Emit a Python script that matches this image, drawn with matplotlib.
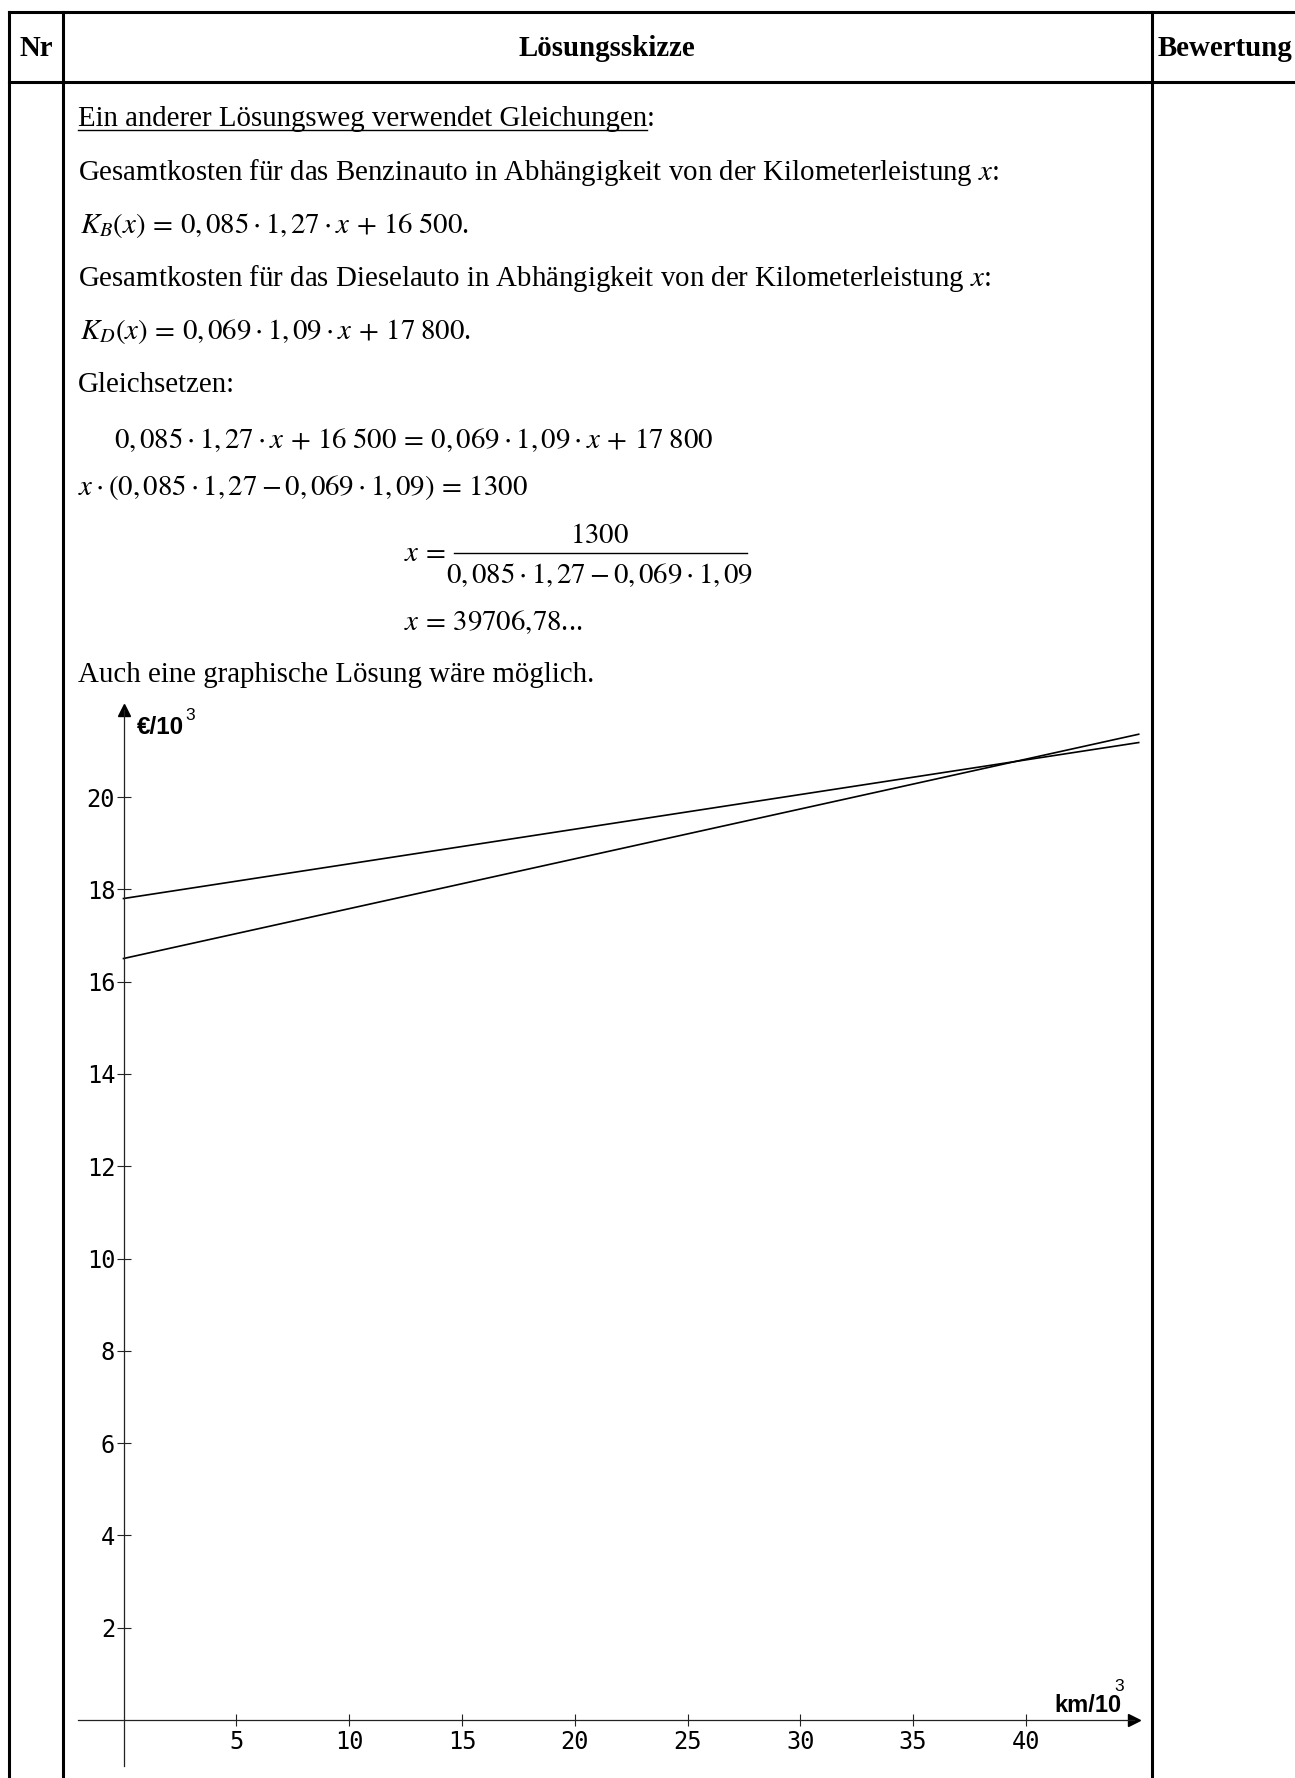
import matplotlib
matplotlib.use("Agg")
import matplotlib.pyplot as plt
from matplotlib.lines import Line2D

plt.rcParams['font.family'] = ['Liberation Serif', 'DejaVu Serif']
plt.rcParams['mathtext.fontset'] = 'stix'

# Daten: Gesamtkosten in 1000 EUR über km/1000
x_km = [0, 45]
kosten_benzin = [16.5, 21.36]
kosten_diesel = [17.8, 21.18]

x_ticks = [5, 10, 15, 20, 25, 30, 35, 40]
y_ticks = [2, 4, 6, 8, 10, 12, 14, 16, 18, 20]

W, H = 1295, 1778
fig = plt.figure(figsize=(W / 100, H / 100), dpi=100)
renderer = fig.canvas.get_renderer()


def fx(px):
    return px / W


def fy(py):
    return 1 - py / H


def linie(x0, y0, x1, y1, lw=2.2, **kw):
    fig.add_artist(Line2D([fx(x0), fx(x1)], [fy(y0), fy(y1)], color='black', lw=lw,
                          transform=fig.transFigure, **kw))


# Tabellenrahmen
linie(9, 12, W, 12)
linie(9, 82, W, 82)
linie(9, 12, 9, H)
linie(63, 12, 63, H)
linie(1152, 12, 1152, H)

# Kopfzeile
fs = 20.8
fig.text(fx(36), fy(56), "Nr", ha='center', fontsize=fs, fontweight='bold')
fig.text(fx(607), fy(56), "Lösungsskizze", ha='center', fontsize=fs, fontweight='bold')
fig.text(fx(1225), fy(56), "Bewertung", ha='center', fontsize=fs, fontweight='bold')

# Text
t = fig.text(fx(78), fy(126), "Ein anderer Lösungsweg verwendet Gleichungen", fontsize=fs)
bb = t.get_window_extent(renderer)
linie(bb.x0, 130, bb.x1, 130, lw=1.0)
fig.text(bb.x1 / W, fy(126), ":", fontsize=fs)

fig.text(fx(78), fy(180), "Gesamtkosten für das Benzinauto in Abhängigkeit von der Kilometerleistung $x$:",
         fontsize=fs)
fig.text(fx(80), fy(233), r"$K_B\left(x\right)\,=\,0{,}\,085\cdot 1{,}\,27\cdot x\,+\,16\;500$.", fontsize=fs)
fig.text(fx(78), fy(286), "Gesamtkosten für das Dieselauto in Abhängigkeit von der Kilometerleistung $x$:",
         fontsize=fs)
fig.text(fx(80), fy(339), r"$K_D\left(x\right)\,=\,0{,}\,069\cdot 1{,}\,09\cdot x\,+\,17\;800$.", fontsize=fs)
fig.text(fx(78), fy(392), "Gleichsetzen:", fontsize=fs)
fig.text(fx(114), fy(448),
         r"$0{,}\,085\cdot 1{,}\,27\cdot x\,+\,16\;500\,=\,0{,}\,069\cdot 1{,}\,09\cdot x\,+\,17\;800$",
         fontsize=fs)
fig.text(fx(78), fy(495), r"$x\cdot\left(0{,}\,085\cdot 1{,}\,27-0{,}\,069\cdot 1{,}\,09\right)\,=\,1300$",
         fontsize=fs)

# Bruch
fig.text(fx(404), fy(561), r"$x\,=$", fontsize=fs)
fig.text(fx(600), fy(543), r"$1300$", fontsize=fs, ha='center')
linie(454, 553, 747, 553, lw=1.0)
fig.text(fx(600), fy(583), r"$0{,}\,085\cdot 1{,}\,27-0{,}\,069\cdot 1{,}\,09$", fontsize=fs, ha='center')
fig.text(fx(404), fy(630), r"$x\,=\,39706{,}78$...", fontsize=fs)

fig.text(fx(78), fy(682), "Auch eine graphische Lösung wäre möglich.", fontsize=fs)

# Diagramm
x0_px, y0_px = 123.5, 1720
sx, sy = 22.56, 46.15
xmin, xmax = -2, 44.8
ymin, ymax = -1, 21.89
ax = fig.add_axes([fx(x0_px + xmin * sx), fy(y0_px - ymin * sy),
                   (xmax - xmin) * sx / W, (ymax - ymin) * sy / H])
ax.set_xlim(xmin, xmax)
ax.set_ylim(ymin, ymax)
ax.patch.set_alpha(0)

for s in ['top', 'right']:
    ax.spines[s].set_visible(False)
ax.spines['left'].set_position(('data', 0))
ax.spines['bottom'].set_position(('data', 0))
for s in ['left', 'bottom']:
    ax.spines[s].set_linewidth(0.9)
    ax.spines[s].set_color('#222222')

ax.plot(1, 0, '>', color='black', markersize=9, transform=ax.get_yaxis_transform(), clip_on=False)
ax.plot(0, 1, '^', color='black', markersize=9, transform=ax.get_xaxis_transform(), clip_on=False)

ax.set_xticks(x_ticks)
ax.set_yticks(y_ticks)
ax.set_xticklabels([str(v) for v in x_ticks], fontfamily='DejaVu Sans Mono', fontsize=17)
ax.set_yticklabels([str(v) for v in y_ticks], fontfamily='DejaVu Sans Mono', fontsize=17)
ax.tick_params(axis='y', direction='inout', length=10, width=0.8, pad=1, color='#222222')
ax.tick_params(axis='x', direction='inout', length=8, width=0.8, pad=3, color='#222222')

ax.plot(x_km, kosten_benzin, color='black', lw=1.2, clip_on=False)
ax.plot(x_km, kosten_diesel, color='black', lw=1.2, clip_on=False)

# Achsenbeschriftungen
sans = ['Liberation Sans', 'DejaVu Sans']
t = fig.text(fx(137), fy(734), "€/10", fontsize=17.5, fontweight='bold', family=sans)
tb = t.get_window_extent(renderer)
fig.text((tb.x1 + 1) / W, fy(720), "3", fontsize=12.5, family=sans)

t = fig.text(fx(1054), fy(1712), "km/10", fontsize=17, fontweight='bold', family=sans)
tb = t.get_window_extent(renderer)
fig.text((tb.x1 - 7) / W, fy(1691), "3", fontsize=12.5, family=sans)

fig.savefig("out.png", dpi=100)
